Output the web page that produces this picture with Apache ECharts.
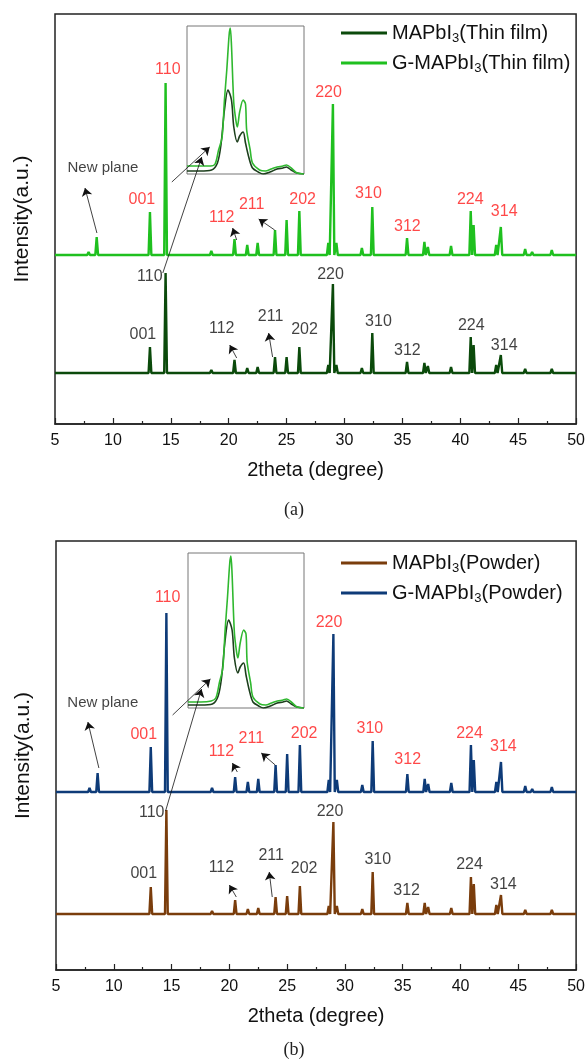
<!DOCTYPE html>
<html>
<head>
<meta charset="utf-8">
<script src="https://cdn.jsdelivr.net/npm/echarts@6/dist/echarts.min.js"></script>
<style>
html, body { margin: 0; padding: 0; background: #fff; }
#xrd { width: 588px; height: 1064px; }
</style>
</head>
<body>
<div id="xrd"></div>
<script>
// 2theta positions of the reflections (shared by all four patterns)
const peakPos = [7.9, 8.6, 13.2, 14.55, 18.5, 20.5, 21.6, 22.5, 24.0, 25.0, 26.1, 28.6, 29.0, 29.3, 31.5, 32.4, 35.4, 36.9, 37.2, 39.2, 40.9, 41.15, 43.1, 43.5, 45.6, 46.2, 47.9];

// baselines (offset stacking) and peak heights above them, a.u.
const filmBase = 51;
const gFilmBase = 169;
const powderBase = 56;
const gPowderBase = 178;
const filmPeaks = [0, 2, 26, 100, 3, 13, 5, 6, 16, 16, 26, 8, 89, 8, 5, 40, 11, 10, 7, 6, 36, 28, 8, 18, 4, 2, 4];
const gFilmPeaks = [3, 18, 43, 172, 4, 16, 10, 12, 25, 35, 44, 12, 151, 12, 7, 48, 17, 13, 8, 9, 44, 30, 10, 28, 6, 3, 5];
const powderPeaks = [0, 2, 27, 104, 3, 14, 5, 6, 17, 18, 28, 8, 92, 8, 5, 42, 11, 11, 7, 6, 37, 30, 9, 19, 4, 2, 4];
const gPowderPeaks = [4, 19, 45, 179, 4, 15, 10, 13, 27, 38, 47, 12, 158, 12, 7, 51, 18, 13, 8, 9, 47, 32, 10, 30, 6, 3, 5];

// inset: zoom on the (110) reflection
const insetFilmA = [[14.00, 3], [14.11, 3], [14.21, 4], [14.26, 11], [14.29, 29], [14.32, 64], [14.35, 84], [14.38, 74], [14.40, 47], [14.43, 32], [14.45, 38], [14.48, 42], [14.50, 31], [14.53, 16], [14.56, 6], [14.61, 2], [14.65, 0], [14.71, 2], [14.77, 5], [14.82, 6], [14.85, 7], [14.89, 4], [14.94, 1], [15.00, 0]];
const insetGFilmA = [[14.00, 8], [14.11, 8], [14.20, 8], [14.24, 10], [14.27, 24], [14.30, 37], [14.32, 74], [14.34, 104], [14.36, 139], [14.37, 146], [14.38, 129], [14.40, 71], [14.42, 52], [14.43, 47], [14.45, 62], [14.48, 74], [14.50, 70], [14.51, 44], [14.54, 24], [14.56, 11], [14.62, 4], [14.67, 3], [14.72, 5], [14.77, 7], [14.82, 8], [14.85, 9], [14.90, 5], [14.94, 1], [15.00, 0]];
const insetFilmB = [[14.00, 3], [14.11, 3], [14.21, 4], [14.26, 12], [14.29, 31], [14.32, 68], [14.35, 88], [14.38, 78], [14.40, 50], [14.43, 35], [14.45, 41], [14.48, 45], [14.50, 33], [14.53, 17], [14.56, 6], [14.61, 2], [14.65, 0], [14.71, 2], [14.77, 5], [14.82, 6], [14.85, 7], [14.89, 4], [14.94, 1], [15.00, 0]];
const insetGFilmB = [[14.00, 6], [14.11, 6], [14.20, 7], [14.24, 10], [14.27, 25], [14.30, 40], [14.32, 78], [14.34, 110], [14.36, 145], [14.37, 152], [14.38, 134], [14.40, 75], [14.42, 55], [14.43, 50], [14.45, 65], [14.48, 78], [14.50, 74], [14.51, 46], [14.54, 25], [14.56, 11], [14.62, 4], [14.67, 3], [14.72, 5], [14.77, 7], [14.82, 8], [14.85, 9], [14.90, 5], [14.94, 1], [15.00, 0]];

// hkl labels [text, 2theta, intensity, red?]
const labelsA = [
  ['110', 14.74, 354, 1], ['001', 12.5, 224, 1], ['112', 19.4, 206, 1], ['211', 21.98, 219, 1], ['202', 26.38, 224, 1],
  ['220', 28.62, 331, 1], ['310', 32.07, 230, 1], ['312', 35.43, 197, 1], ['224', 40.86, 224, 1], ['314', 43.79, 212, 1],
  ['110', 13.19, 147, 0], ['001', 12.59, 89, 0], ['112', 19.4, 95, 0], ['211', 23.62, 107, 0], ['202', 26.55, 94, 0],
  ['220', 28.79, 149, 0], ['310', 32.93, 102, 0], ['312', 35.43, 73, 0], ['224', 40.95, 98, 0], ['314', 43.79, 78, 0]
];
const labelsB = [
  ['110', 14.66, 372, 1], ['001', 12.59, 235, 1], ['112', 19.31, 218, 1], ['211', 21.9, 231, 1], ['202', 26.47, 236, 1],
  ['220', 28.62, 347, 1], ['310', 32.16, 241, 1], ['312', 35.43, 210, 1], ['224', 40.78, 236, 1], ['314', 43.71, 223, 1],
  ['110', 13.28, 157, 0], ['001', 12.59, 96, 0], ['112', 19.31, 102, 0], ['211', 23.62, 114, 0], ['202', 26.47, 101, 0],
  ['220', 28.71, 158, 0], ['310', 32.84, 110, 0], ['312', 35.34, 79, 0], ['224', 40.78, 105, 0], ['314', 43.71, 85, 0]
];
const newPlaneA = [9.14, 256];
const newPlaneB = [9.05, 267];

// arrows [from, to]
const arrowsA = [
  [[8.62, 191], [7.59, 236]], [[15.09, 242], [18.36, 277]], [[14.31, 151], [17.67, 267]],
  [[20.69, 184], [20.34, 196]], [[23.97, 194], [22.59, 205]],
  [[20.69, 66], [20.09, 79]], [[23.79, 67], [23.45, 91]]
];
const arrowsB = [
  [[8.71, 202], [7.76, 248]], [[15.09, 255], [18.36, 291]], [[14.48, 159], [17.59, 281]],
  [[20.69, 198], [20.26, 207]], [[23.97, 205], [22.76, 217]],
  [[20.6, 73], [20.0, 85]], [[23.71, 73], [23.45, 98]]
];

const FONT = 'Liberation Sans, Arial, sans-serif';
const DARK = '#0b4a0b', GREEN = '#1fc01f', BROWN = '#7a3d0c', NAVY = '#0e3b78';

function pattern(base, heights) {
  const pts = [[5, base]];
  peakPos.forEach((p, i) => {
    if (!heights[i]) return;
    pts.push([p - 0.12, base], [p, base + heights[i]], [p + 0.12, base]);
  });
  pts.push([50, base]);
  return pts;
}

function xMain(gi) {
  return {
    gridIndex: gi, type: 'value', min: 5, max: 50, interval: 5,
    axisLine: { show: true, onZero: false, lineStyle: { color: '#222', width: 1.5 } },
    axisTick: { show: true, inside: true, length: 6, lineStyle: { color: '#222', width: 1.2 } },
    minorTick: { show: true, splitNumber: 2, length: 3, lineStyle: { color: '#222', width: 1.2 } },
    splitLine: { show: false },
    axisLabel: { fontSize: 16, color: '#111', margin: 9, fontFamily: FONT },
    name: '2theta (degree)', nameLocation: 'middle', nameGap: 36,
    nameTextStyle: { fontSize: 20, color: '#111', fontFamily: FONT }
  };
}
function yMain(gi, max) {
  return {
    gridIndex: gi, type: 'value', min: 0, max: max,
    axisLine: { show: false }, axisTick: { show: false }, axisLabel: { show: false }, splitLine: { show: false },
    name: 'Intensity(a.u.)', nameLocation: 'middle', nameGap: 22,
    nameTextStyle: { fontSize: 21, color: '#111', fontFamily: FONT }
  };
}
function hidden(gi, min, max) {
  return { gridIndex: gi, type: 'value', min: min, max: max, show: false };
}

function line(name, gi, data, color, width) {
  return {
    name: name, type: 'line', xAxisIndex: gi, yAxisIndex: gi, data: data,
    showSymbol: false, symbol: 'none', lineStyle: { color: color, width: width }, itemStyle: { color: color }
  };
}
function smoothLine(gi, data, color) {
  const s = line('', gi, data, color, 1.6);
  s.smooth = 0.3;
  return s;
}

function annotations(gi, labels, np, arrows) {
  const data = labels.map(l => ({
    name: l[0], value: [l[1], l[2]],
    label: { color: l[3] ? '#ff1a1a' : '#111' }
  }));
  data.push({ name: 'New plane', value: np, label: { color: '#111', fontSize: 15 } });
  return {
    type: 'scatter', xAxisIndex: gi, yAxisIndex: gi, symbolSize: 0, silent: true, z: 5,
    label: { show: true, position: 'inside', formatter: '{b}', fontSize: 16, fontFamily: FONT },
    data: data,
    markLine: {
      silent: true, symbol: ['none', 'arrow'], symbolSize: 8, animation: false,
      label: { show: false },
      itemStyle: { color: '#111' },
      lineStyle: { color: '#111', width: 0.8, type: 'solid' },
      data: arrows.map(a => [{ coord: a[0] }, { coord: a[1] }])
    }
  };
}

function legend(names, top) {
  return {
    data: names, orient: 'vertical', left: 341, top: top, padding: 0, icon: 'rect',
    itemWidth: 46, itemHeight: 3, itemGap: 8,
    formatter: n => '{t|' + n.replace('I3(', 'I}{s|3}{t|(') + '}',
    textStyle: {
      rich: {
        t: { fontSize: 20, lineHeight: 24, color: '#111', fontFamily: FONT },
        s: { fontSize: 13, lineHeight: 12, verticalAlign: 'bottom', color: '#111', fontFamily: FONT }
      }
    }
  };
}

const chart = echarts.init(document.getElementById('xrd'));
chart.setOption({
  backgroundColor: '#fff',
  animation: false,
  title: [
    { text: '(a)', left: 'center', top: 496, textStyle: { fontFamily: 'Liberation Serif', fontSize: 18, fontWeight: 'normal', color: '#222' } },
    { text: '(b)', left: 'center', top: 1036, textStyle: { fontFamily: 'Liberation Serif', fontSize: 18, fontWeight: 'normal', color: '#222' } }
  ],
  legend: [
    legend(['MAPbI3(Thin film)', 'G-MAPbI3(Thin film)'], 23),
    legend(['MAPbI3(Powder)', 'G-MAPbI3(Powder)'], 553)
  ],
  grid: [
    { left: 55, top: 14, width: 523, height: 410, show: true, borderColor: '#222', borderWidth: 1.5 },
    { left: 56, top: 541, width: 522, height: 429, show: true, borderColor: '#222', borderWidth: 1.5 },
    { left: 187, top: 26, width: 117, height: 148, show: true, borderColor: '#777', borderWidth: 1, backgroundColor: '#fff' },
    { left: 188, top: 553, width: 116, height: 155, show: true, borderColor: '#777', borderWidth: 1, backgroundColor: '#fff' }
  ],
  xAxis: [xMain(0), xMain(1), hidden(2, 14, 15), hidden(3, 14, 15)],
  yAxis: [yMain(0, 410), yMain(1, 429), hidden(2, 0, 148), hidden(3, 0, 155)],
  series: [
    line('MAPbI3(Thin film)', 0, pattern(filmBase, filmPeaks), DARK, 2.4),
    line('G-MAPbI3(Thin film)', 0, pattern(gFilmBase, gFilmPeaks), GREEN, 2.4),
    line('MAPbI3(Powder)', 1, pattern(powderBase, powderPeaks), BROWN, 2.4),
    line('G-MAPbI3(Powder)', 1, pattern(gPowderBase, gPowderPeaks), NAVY, 2.4),
    smoothLine(2, insetFilmA, '#1d3f1d'),
    smoothLine(2, insetGFilmA, '#2fb82f'),
    smoothLine(3, insetFilmB, '#1d3f1d'),
    smoothLine(3, insetGFilmB, '#2fb82f'),
    annotations(0, labelsA, newPlaneA, arrowsA),
    annotations(1, labelsB, newPlaneB, arrowsB)
  ]
});
</script>
</body>
</html>
